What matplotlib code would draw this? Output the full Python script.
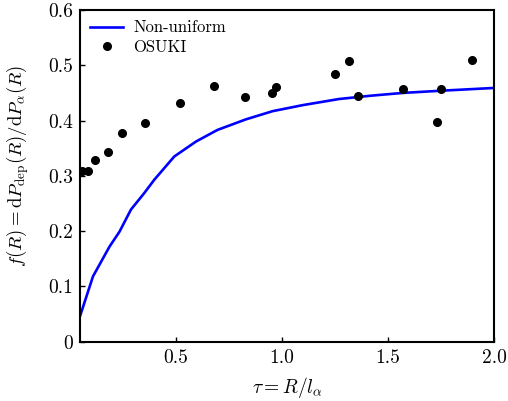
import numpy as np
import matplotlib
matplotlib.use("Agg")
import matplotlib.pyplot as plt

plt.rcParams['mathtext.fontset'] = 'cm'
plt.rcParams['font.family'] = ['cmr10', 'DejaVu Serif']
plt.rcParams['axes.formatter.use_mathtext'] = True

# Non-uniform curve
tau_curve = [0.05, 0.111, 0.189, 0.236, 0.29, 0.353, 0.40, 0.494, 0.596, 0.697,
             0.83, 0.957, 1.1, 1.27, 1.42, 1.57, 1.75, 1.9, 2.0]
f_curve = [0.046, 0.118, 0.172, 0.199, 0.239, 0.269, 0.293, 0.335, 0.362, 0.383,
           0.402, 0.417, 0.428, 0.439, 0.445, 0.450, 0.454, 0.457, 0.459]

# OSUKI points
tau_osuki = [0.058, 0.087, 0.12, 0.183, 0.247, 0.358, 0.519, 0.68, 0.829, 0.952,
             0.971, 1.251, 1.317, 1.357, 1.571, 1.732, 1.749, 1.897]
f_osuki = [0.308, 0.309, 0.329, 0.344, 0.378, 0.396, 0.431, 0.462, 0.442, 0.449,
           0.461, 0.485, 0.507, 0.445, 0.457, 0.398, 0.457, 0.510]

xticks = [0.5, 1.0, 1.5, 2.0]
xticklabels = ['0.5', '1.0', '1.5', '2.0']
yticks = [0, 0.1, 0.2, 0.3, 0.4, 0.5, 0.6]
yticklabels = ['0', '0.1', '0.2', '0.3', '0.4', '0.5', '0.6']

fig = plt.figure(figsize=(5.08, 4.01), dpi=100)
ax = fig.add_axes([0.1575, 0.148, 0.815, 0.827])

ax.plot(tau_curve, f_curve, color='#0000ff', lw=1.9, label='Non-uniform')
ax.plot(tau_osuki, f_osuki, 'o', color='black', ms=5.5, label='OSUKI')

ax.set_xlim(0.05, 2.0)
ax.set_ylim(0, 0.6)
ax.set_xticks(xticks)
ax.set_xticklabels(xticklabels)
ax.set_yticks(yticks)
ax.set_yticklabels(yticklabels)
ax.tick_params(direction='in', length=3.5, width=1.0, labelsize=14, pad=5)
for s in ax.spines.values():
    s.set_linewidth(1.5)

ax.set_xlabel(r'$\tau=R/l_{\alpha}$', fontsize=14, labelpad=6)
ax.set_ylabel(r'$f(R)=\mathrm{d}P_{\mathrm{dep}}(R)/\mathrm{d}P_{\alpha}(R)$', fontsize=13.5)
ax.yaxis.set_label_coords(-0.118, 0.53)

ax.legend(loc='upper left', frameon=False, fontsize=12, handlelength=2.0,
          borderaxespad=0.2, labelspacing=0.25, handletextpad=0.6)

fig.savefig('out.png', dpi=100)
